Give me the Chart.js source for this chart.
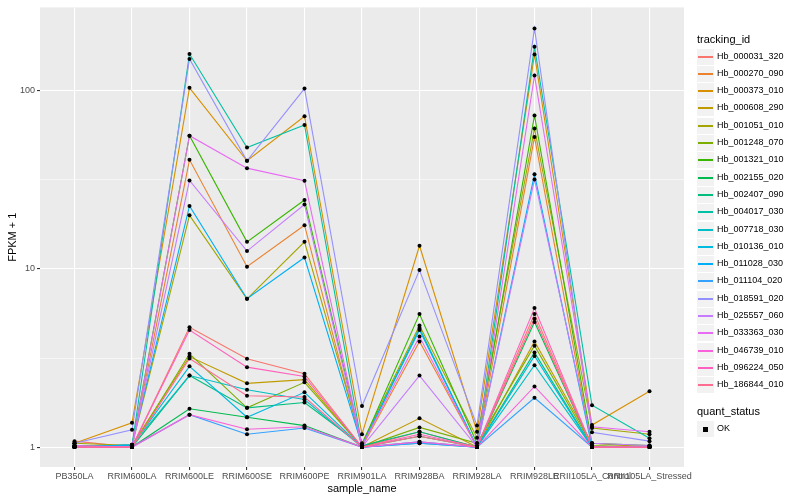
<!DOCTYPE html>
<html lang="en">
<head>
<meta charset="UTF-8">
<title>FPKM by sample</title>
<script src="https://cdn.jsdelivr.net/npm/chart.js"></script>
<style>
    body { margin: 0; background: #fff; font-family: 'Liberation Sans', Arial, sans-serif; }
    .wrap { position: relative; width: 800px; height: 500px; }
    #legend { position: absolute; left: 697px; top: 0; color: #000; }
    .lg-title { position: absolute; left: 0; font-size: 11px; white-space: nowrap; }
    .lg-row { position: absolute; left: 0; height: 17px; width: 100px; }
    .lg-key { position: absolute; left: 0; top: 0; width: 17px; height: 16px; background: #F2F2F2; }
    .lg-line { position: absolute; left: 1px; top: 7px; width: 15px; height: 2px; }
    .lg-dot { position: absolute; left: 6px; top: 5.5px; width: 5px; height: 5px; background: #000; }
    .lg-text { position: absolute; left: 20px; top: 2px; font-size: 9px; white-space: nowrap; }
</style>
</head>
<body>
<div class="wrap">
    <canvas id="chart" width="800" height="500"></canvas>
    <div id="legend"></div>
</div>
<script>
// samples on the x axis
const samples = ['PB350LA', 'RRIM600LA', 'RRIM600LE', 'RRIM600SE', 'RRIM600PE', 'RRIM901LA',
    'RRIM928BA', 'RRIM928LA', 'RRIM928LE', 'RRII105LA_Control', 'RRII105LA_Stressed'];

// FPKM + 1 per gene, in sample order
const hb_000031_320 = [1.08, 1.00, 4.70, 3.13, 2.58, 1.00, 1.22, 1.00, 5.58, 1.00, 1.00];
const hb_000270_090 = [1.00, 1.00, 41.0, 10.3, 17.6, 1.00, 3.92, 1.00, 55.0, 1.00, 1.00];
const hb_000373_010 = [1.05, 1.37, 104, 40.5, 72.0, 1.18, 13.5, 1.22, 160, 1.33, 2.06];
const hb_000608_290 = [1.00, 1.03, 3.22, 2.28, 2.39, 1.00, 1.45, 1.00, 3.92, 1.05, 1.00];
const hb_001051_010 = [1.05, 1.02, 20.0, 6.80, 14.2, 1.05, 4.82, 1.13, 61.5, 1.28, 1.18];
const hb_001248_070 = [1.02, 1.00, 3.34, 1.66, 2.31, 1.00, 1.29, 1.05, 3.71, 1.02, 1.00];
const hb_001321_010 = [1.00, 1.02, 56.0, 14.2, 24.4, 1.03, 5.58, 1.05, 72.8, 1.05, 1.02];
const hb_002155_020 = [1.02, 1.00, 1.64, 1.47, 1.32, 1.00, 1.15, 1.00, 5.04, 1.00, 1.00];
const hb_002407_090 = [1.00, 1.00, 2.52, 1.66, 1.78, 1.02, 1.22, 1.00, 3.40, 1.00, 1.00];
const hb_004017_030 = [1.00, 1.02, 161, 48.0, 64.3, 1.02, 4.66, 1.00, 177, 1.72, 1.12];
const hb_007718_030 = [1.00, 1.03, 2.52, 2.10, 1.85, 1.00, 1.05, 1.00, 2.88, 1.00, 1.00];
const hb_010136_010 = [1.00, 1.02, 2.84, 1.47, 2.03, 1.00, 1.07, 1.00, 3.25, 1.00, 1.00];
const hb_011028_030 = [1.00, 1.03, 22.6, 6.80, 11.6, 1.02, 4.54, 1.00, 34.0, 1.00, 1.00];
const hb_011104_020 = [1.00, 1.00, 1.52, 1.18, 1.28, 1.00, 1.05, 1.00, 1.89, 1.00, 1.00];
const hb_018591_020 = [1.05, 1.25, 151, 40.5, 103, 1.70, 9.85, 1.32, 224, 1.21, 1.08];
const hb_025557_060 = [1.00, 1.00, 31.4, 12.6, 23.0, 1.00, 2.52, 1.00, 31.8, 1.05, 1.02];
const hb_033363_030 = [1.02, 1.00, 56.0, 36.8, 31.3, 1.02, 4.17, 1.00, 122, 1.30, 1.22];
const hb_046739_010 = [1.00, 1.00, 1.52, 1.26, 1.30, 1.00, 1.07, 1.00, 2.19, 1.00, 1.00];
const hb_096224_050 = [1.00, 1.00, 4.54, 2.81, 2.49, 1.00, 1.18, 1.00, 6.03, 1.00, 1.00];
const hb_186844_010 = [1.00, 1.00, 3.14, 1.94, 1.91, 1.00, 1.15, 1.00, 5.26, 1.00, 1.00];

const trackingIds = ['Hb_000031_320', 'Hb_000270_090', 'Hb_000373_010', 'Hb_000608_290', 'Hb_001051_010',
    'Hb_001248_070', 'Hb_001321_010', 'Hb_002155_020', 'Hb_002407_090', 'Hb_004017_030',
    'Hb_007718_030', 'Hb_010136_010', 'Hb_011028_030', 'Hb_011104_020', 'Hb_018591_020',
    'Hb_025557_060', 'Hb_033363_030', 'Hb_046739_010', 'Hb_096224_050', 'Hb_186844_010'];
const seriesValues = [hb_000031_320, hb_000270_090, hb_000373_010, hb_000608_290, hb_001051_010,
    hb_001248_070, hb_001321_010, hb_002155_020, hb_002407_090, hb_004017_030,
    hb_007718_030, hb_010136_010, hb_011028_030, hb_011104_020, hb_018591_020,
    hb_025557_060, hb_033363_030, hb_046739_010, hb_096224_050, hb_186844_010];
const yTicks = [1, 10, 100];

// ggplot default hue palette, 20 levels
const palette = ['#F8766D', '#EA8331', '#D89000', '#C09B00', '#A3A500', '#7CAE00', '#39B600', '#00BB4E',
    '#00BF7D', '#00C1A3', '#00BFC4', '#00BAE0', '#00B0F6', '#35A2FF', '#9590FF', '#C77CFF',
    '#E76BF3', '#FA62DB', '#FF62BC', '#FF6C91'];

const font = "'Liberation Sans', Arial, sans-serif";
const isMajor = v => yTicks.some(t => Math.abs(t - v) < 1e-6);

const lineSets = seriesValues.map((vals, i) => ({
    label: trackingIds[i],
    data: vals.map((v, j) => ({ x: j + 1, y: v })),
    borderColor: palette[i],
    borderWidth: 1.1,
    pointRadius: 0,
    fill: false,
    tension: 0,
    order: 20 - i
}));

const pointSet = {
    type: 'scatter',
    label: 'OK',
    data: seriesValues.flatMap(vals => vals.map((v, j) => ({ x: j + 1, y: v }))),
    backgroundColor: '#000',
    borderColor: '#000',
    pointStyle: 'circle',
    pointRadius: 2,
    borderWidth: 0,
    showLine: false,
    order: -1
};

const panelBg = {
    id: 'panelBg',
    beforeDraw(chart) {
        const a = chart.chartArea, c = chart.ctx;
        c.save();
        c.fillStyle = '#EBEBEB';
        c.fillRect(a.left, a.top, a.right - a.left, a.bottom - a.top);
        c.restore();
    }
};

new Chart(document.getElementById('chart'), {
    type: 'line',
    data: { datasets: lineSets.concat([pointSet]) },
    plugins: [panelBg],
    options: {
        responsive: false,
        animation: false,
        layout: { padding: { left: 0, right: 116, top: 4, bottom: 0 } },
        plugins: { legend: { display: false }, tooltip: { enabled: false } },
        scales: {
            x: {
                type: 'linear',
                min: 0.4,
                max: 11.6,
                afterBuildTicks: s => { s.ticks = samples.map((_, i) => ({ value: i + 1 })); },
                afterFit: s => { s.height = 33; },
                ticks: {
                    autoSkip: false, maxRotation: 0, minRotation: 0, padding: 1,
                    color: '#4D4D4D', font: { family: font, size: 9 },
                    callback: v => samples[v - 1]
                },
                grid: { color: '#FFFFFF', lineWidth: 1.1, tickColor: '#333333', tickLength: 3 },
                border: { display: false },
                title: { display: true, text: 'sample_name', color: '#000', font: { family: font, size: 11 }, padding: { top: 0, bottom: 4 } }
            },
            y: {
                type: 'logarithmic',
                min: 0.773,
                max: 294,
                afterBuildTicks: s => {
                    s.ticks = [1, Math.sqrt(10), 10, 10 * Math.sqrt(10), 100].map(v => ({ value: v }));
                },
                afterFit: s => { s.width = 40; },
                ticks: {
                    padding: 2, color: '#4D4D4D', font: { family: font, size: 9 },
                    callback: v => isMajor(v) ? String(Math.round(v)) : ''
                },
                grid: {
                    color: '#FFFFFF',
                    lineWidth: c => (c.tick && isMajor(c.tick.value)) ? 1.1 : 0.55,
                    tickColor: c => (c.tick && isMajor(c.tick.value)) ? '#333333' : 'rgba(0,0,0,0)',
                    tickLength: 3
                },
                border: { display: false },
                title: { display: true, text: 'FPKM + 1', color: '#000', font: { family: font, size: 11 }, padding: { top: 6, bottom: 0 } }
            }
        }
    }
});

// legend on the right, ggplot style
const legend = document.getElementById('legend');
let html = '<div class="lg-title" style="top:33px">tracking_id</div>';
trackingIds.forEach((id, i) => {
    const top = Math.round(48.5 + i * 17.3);
    html += '<div class="lg-row" style="top:' + top + 'px"><div class="lg-key"><div class="lg-line" style="background:' +
        palette[i] + '"></div></div><div class="lg-text">' + id + '</div></div>';
});
html += '<div class="lg-title" style="top:405px">quant_status</div>';
html += '<div class="lg-row" style="top:421px"><div class="lg-key"><div class="lg-dot"></div></div><div class="lg-text">OK</div></div>';
legend.innerHTML = html;
</script>
</body>
</html>
